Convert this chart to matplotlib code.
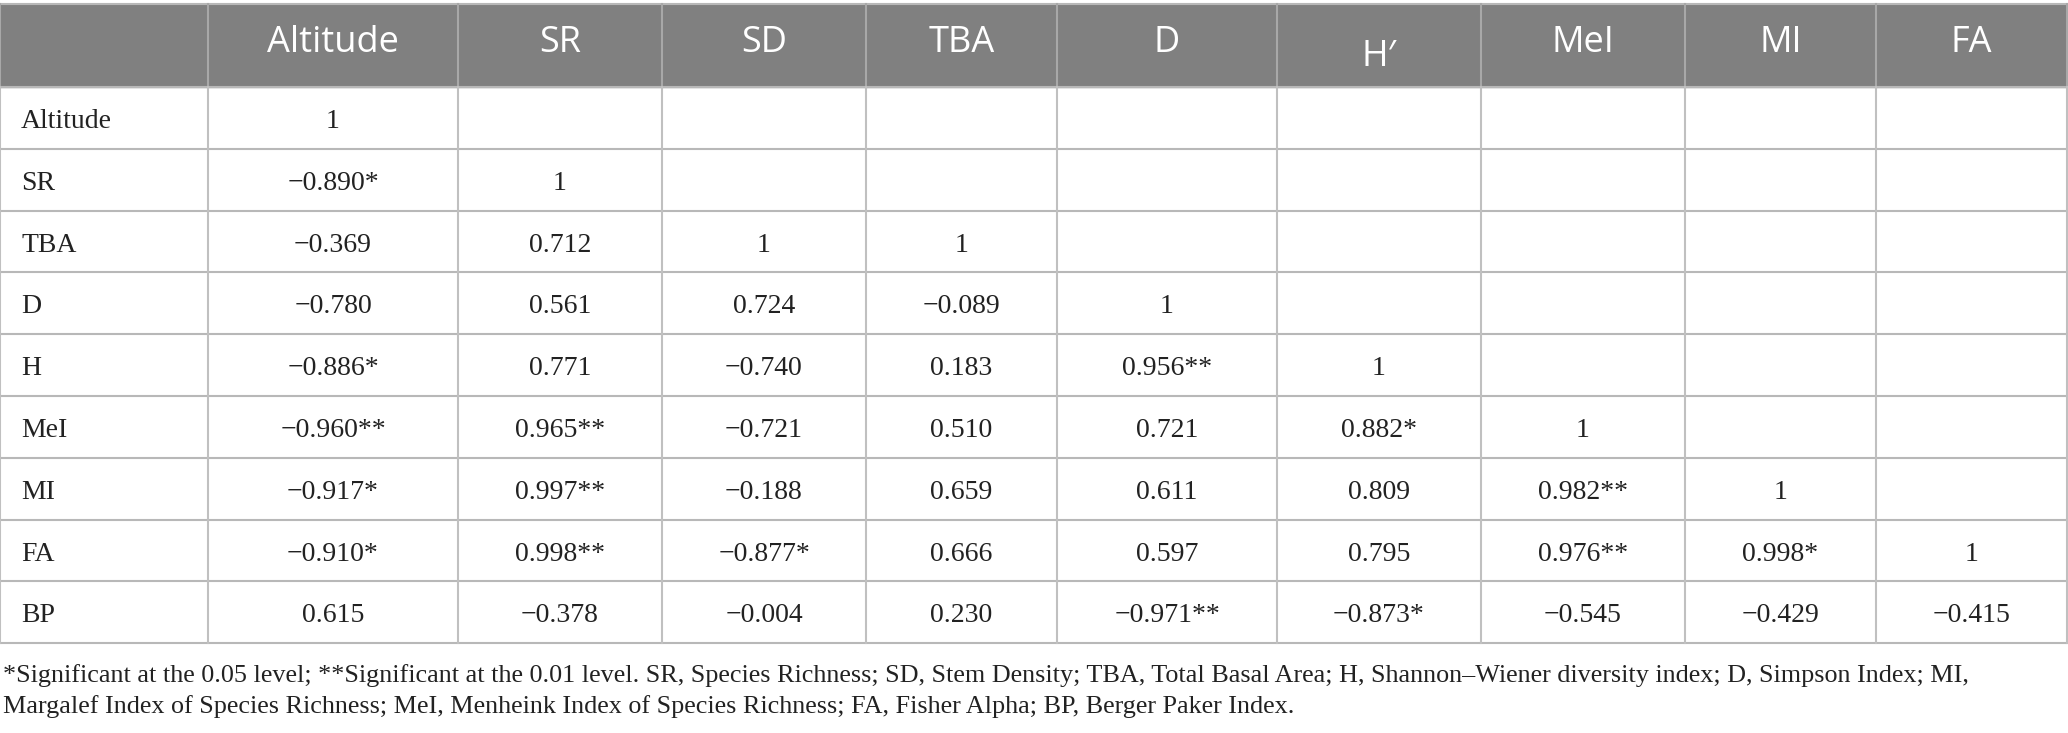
import matplotlib.pyplot as plt
from matplotlib.patches import Rectangle

# table content
col_headers = ["", "Altitude", "SR", "SD", "TBA", "D", "H\u2032", "MeI", "MI", "FA"]
row_labels = ["Altitude", "SR", "TBA", "D", "H", "MeI", "MI", "FA", "BP"]
cells = [
    ["1"],
    ["\u22120.890*", "1"],
    ["\u22120.369", "0.712", "1", "1"],
    ["\u22120.780", "0.561", "0.724", "\u22120.089", "1"],
    ["\u22120.886*", "0.771", "\u22120.740", "0.183", "0.956**", "1"],
    ["\u22120.960**", "0.965**", "\u22120.721", "0.510", "0.721", "0.882*", "1"],
    ["\u22120.917*", "0.997**", "\u22120.188", "0.659", "0.611", "0.809", "0.982**", "1"],
    ["\u22120.910*", "0.998**", "\u22120.877*", "0.666", "0.597", "0.795", "0.976**", "0.998*", "1"],
    ["0.615", "\u22120.378", "\u22120.004", "0.230", "\u22120.971**", "\u22120.873*", "\u22120.545", "\u22120.429", "\u22120.415"],
]
footnote = [
    "*Significant at the 0.05 level; **Significant at the 0.01 level. SR, Species Richness; SD, Stem Density; "
    "TBA, Total Basal Area; H, Shannon\u2013Wiener diversity index; D, Simpson Index; MI,",
    "Margalef Index of Species Richness; MeI, Menheink Index of Species Richness; FA, Fisher Alpha; BP, Berger Paker Index.",
]

# layout (pixels)
col_widths = [208, 250, 204, 204, 191, 220, 204, 204, 191, 191]
top, header_h, row_h = 4, 83, 61.8
serif = ["Liberation Serif", "DejaVu Serif"]

W, H = 2068, 733
fig = plt.figure(figsize=(W / 100, H / 100), dpi=100)
ax = fig.add_axes([0, 0, 1, 1])
ax.set_xlim(0, W)
ax.set_ylim(H, 0)
ax.axis("off")

edges = [0]
for w in col_widths:
    edges.append(edges[-1] + w)
table_w = edges[-1]
header_bottom = top + header_h
table_bottom = header_bottom + row_h * len(row_labels)

ax.add_patch(Rectangle((0, top), table_w, header_h, color="#808080", zorder=0))

# grid
ax.plot([0, table_w], [top, top], color="#b8b8b8", lw=1.5)
for i in range(len(row_labels) + 1):
    y = header_bottom + i * row_h
    ax.plot([0, table_w], [y, y], color="#b8b8b8", lw=1.5)
for x in edges:
    ax.plot([x, x], [top, header_bottom], color="#a8a8a8", lw=1.5)
    ax.plot([x, x], [header_bottom, table_bottom], color="#c0c0c0", lw=1.5)

# header text
for j, name in enumerate(col_headers):
    if not name:
        continue
    xc = (edges[j] + edges[j + 1]) / 2
    base = top + 48 + (14 if name.startswith("H") else 0)
    ax.text(xc, base, name, color="white", fontsize=26, ha="center", va="baseline",
            family=["Open Sans", "DejaVu Sans"])

# body text
for i, label in enumerate(row_labels):
    base = header_bottom + i * row_h + 41
    ax.text(edges[0] + 21, base, label, fontsize=20, ha="left", va="baseline",
            family=serif, color="#222222")
    for j, val in enumerate(cells[i]):
        xc = (edges[j + 1] + edges[j + 2]) / 2
        ax.text(xc, base, val, fontsize=20, ha="center", va="baseline",
                family=serif, color="#222222")

# footnote, sized so the first line ends where the reference does
notes = [ax.text(3, b, line, fontsize=19, ha="left", va="baseline", family=serif, color="#222222")
         for b, line in zip([682, 713], footnote)]
renderer = fig.canvas.get_renderer()
width = notes[0].get_window_extent(renderer).width
size = 19 * (1972 - 3) / width
for t in notes:
    t.set_fontsize(size)

fig.savefig("out.png", dpi=100)
